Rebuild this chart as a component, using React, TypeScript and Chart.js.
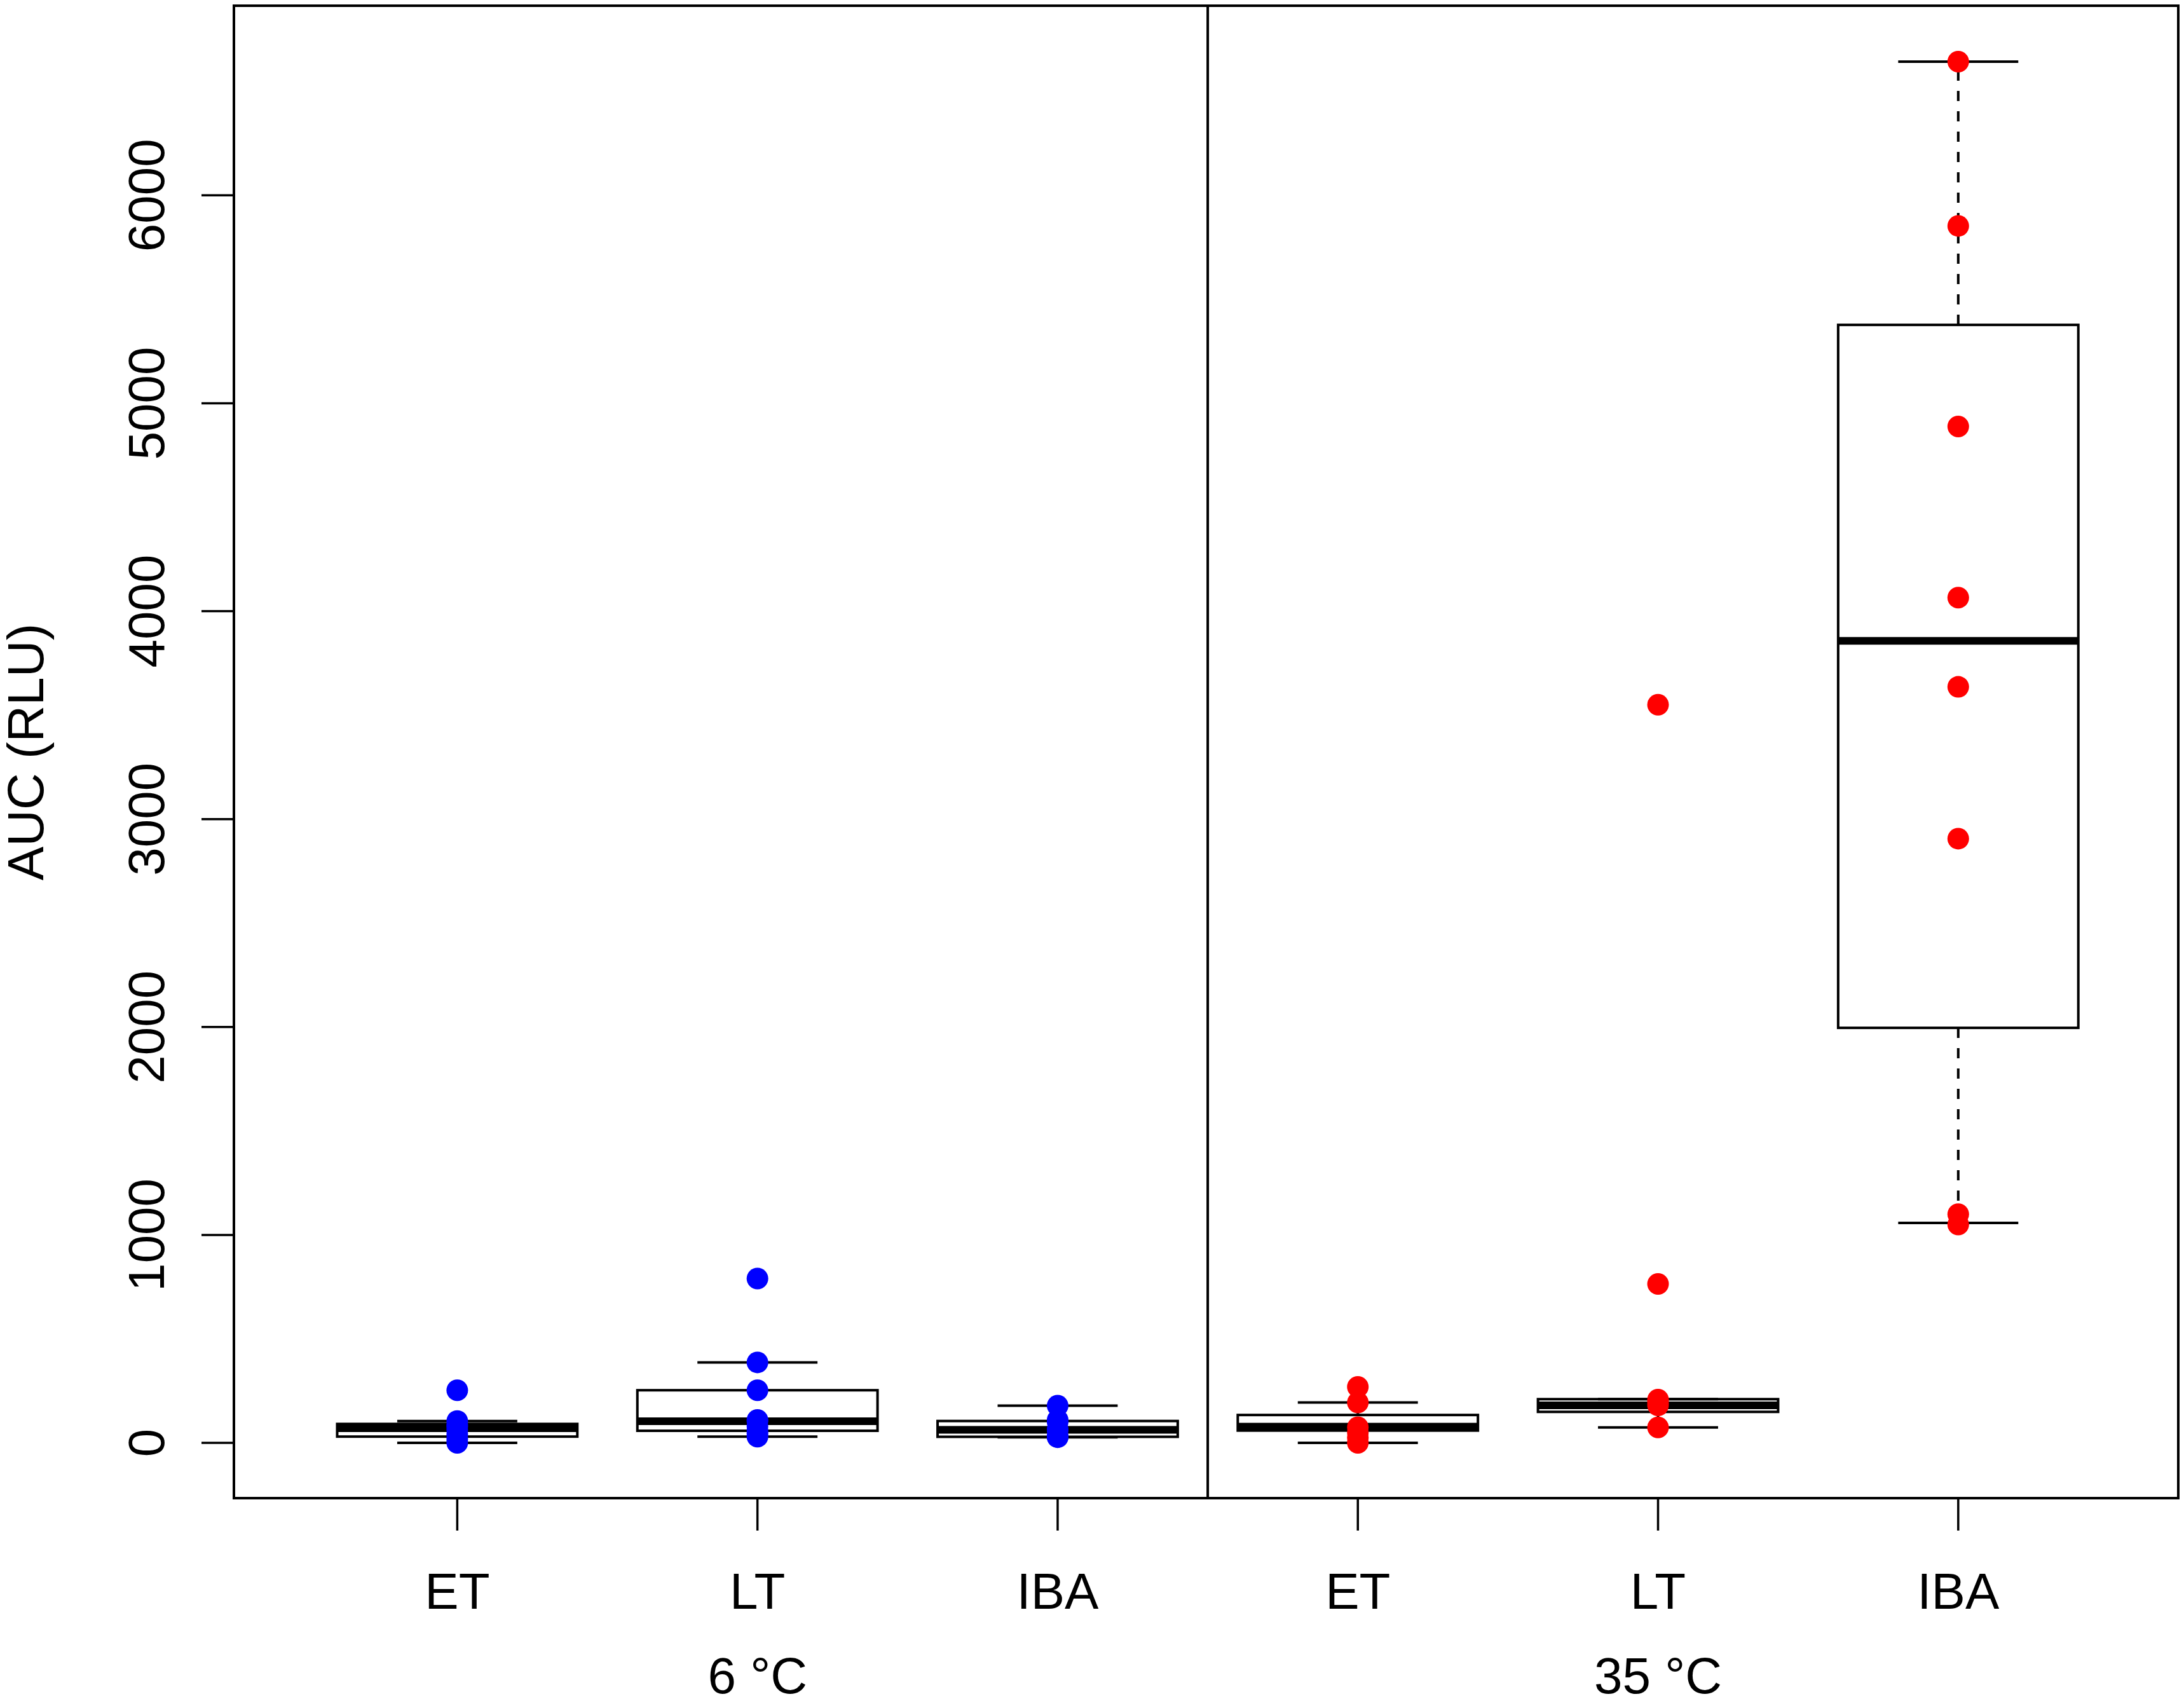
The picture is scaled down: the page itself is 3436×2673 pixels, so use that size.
import React, { useEffect, useRef } from 'react';
import { Chart, registerables } from 'chart.js';

Chart.register(...registerables);

// ---------------- data ----------------
const CATEGORIES = ['ET', 'LT', 'IBA', 'ET', 'LT', 'IBA'];
const GROUP_LABELS = ['6 °C', '35 °C'];
const GROUP_CENTERS = [2, 5];
const DIVIDER_AT = 3.5;
const Y_TICKS = [0, 1000, 2000, 3000, 4000, 5000, 6000];
const Y_TITLE = 'AUC (RLU)';

// box statistics (per category, left to right)
const BOX_MIN = [0, 30, 27, 0, 74, 1058];
const BOX_Q1 = [30, 58, 29, 59, 149, 1996];
const BOX_MEDIAN = [70, 104, 63, 78, 180, 3857];
const BOX_Q3 = [91, 253, 105, 134, 210, 5377];
const BOX_MAX = [105, 387, 179, 194, 210, 6643];

// individual observations
const PTS_6_ET = [0, 18, 40, 62, 78, 86, 105, 253];
const PTS_6_LT = [30, 45, 58, 80, 104, 110, 253, 387, 790];
const PTS_6_IBA = [27, 29, 32, 60, 66, 100, 110, 179];
const PTS_35_ET = [0, 25, 50, 75, 194, 269];
const PTS_35_LT = [74, 180, 195, 208, 764, 3550];
const PTS_35_IBA = [1050, 1100, 2906, 3636, 4065, 4888, 5853, 6643];

const PTS_6 = [PTS_6_ET, PTS_6_LT, PTS_6_IBA];
const PTS_35 = [PTS_35_ET, PTS_35_LT, PTS_35_IBA];

// ---------------- helpers ----------------
const FONT = '80px "Liberation Sans", Arial, Helvetica, sans-serif';

const toXY = (groups: number[][], offset: number) =>
  groups.flatMap((vals, i) => vals.map((v) => ({ x: i + 1 + offset, y: v })));

const rPlotPlugin = {
  id: 'rBoxplot',
  beforeDatasetsDraw(chart: any) {
    const { ctx, scales } = chart;
    const x = scales.x;
    const y = scales.y;
    ctx.save();
    ctx.strokeStyle = '#000000';
    for (let i = 0; i < CATEGORIES.length; i++) {
      const pos = i + 1;
      const cx = x.getPixelForValue(pos);
      const halfBox = x.getPixelForValue(pos + 0.4) - cx;
      const halfCap = x.getPixelForValue(pos + 0.2) - cx;
      const pMin = y.getPixelForValue(BOX_MIN[i]);
      const pQ1 = y.getPixelForValue(BOX_Q1[i]);
      const pMed = y.getPixelForValue(BOX_MEDIAN[i]);
      const pQ3 = y.getPixelForValue(BOX_Q3[i]);
      const pMax = y.getPixelForValue(BOX_MAX[i]);

      // dashed whiskers
      ctx.lineWidth = 4;
      ctx.lineCap = 'butt';
      ctx.setLineDash([16, 16]);
      ctx.beginPath();
      if (pQ3 - pMax > 1) {
        ctx.moveTo(cx, pQ3);
        ctx.lineTo(cx, pMax);
      }
      if (pMin - pQ1 > 1) {
        ctx.moveTo(cx, pQ1);
        ctx.lineTo(cx, pMin);
      }
      ctx.stroke();
      ctx.setLineDash([]);

      // staples
      ctx.beginPath();
      ctx.moveTo(cx - halfCap, pMax);
      ctx.lineTo(cx + halfCap, pMax);
      ctx.moveTo(cx - halfCap, pMin);
      ctx.lineTo(cx + halfCap, pMin);
      ctx.stroke();

      // box
      ctx.lineWidth = 4;
      ctx.strokeRect(cx - halfBox, pQ3, 2 * halfBox, pQ1 - pQ3);

      // median
      ctx.lineWidth = 12;
      ctx.beginPath();
      ctx.moveTo(cx - halfBox, pMed);
      ctx.lineTo(cx + halfBox, pMed);
      ctx.stroke();
    }
    ctx.restore();
  },
  afterDraw(chart: any) {
    const { ctx, chartArea, scales } = chart;
    const x = scales.x;
    const y = scales.y;
    const { left, right, top, bottom } = chartArea;
    ctx.save();
    ctx.strokeStyle = '#000000';
    ctx.fillStyle = '#000000';
    ctx.lineWidth = 4;
    ctx.setLineDash([]);

    // frame
    ctx.strokeRect(left, top, right - left, bottom - top);

    // divider between temperature groups
    const dx = x.getPixelForValue(DIVIDER_AT);
    ctx.beginPath();
    ctx.moveTo(dx, top);
    ctx.lineTo(dx, bottom);
    ctx.stroke();

    // y ticks + rotated labels
    ctx.font = FONT;
    ctx.lineWidth = 3.5;
    for (const t of Y_TICKS) {
      const py = y.getPixelForValue(t);
      ctx.beginPath();
      ctx.moveTo(left, py);
      ctx.lineTo(left - 51, py);
      ctx.stroke();
      ctx.save();
      ctx.translate(258, py);
      ctx.rotate(-Math.PI / 2);
      ctx.textAlign = 'center';
      ctx.textBaseline = 'alphabetic';
      ctx.fillText(String(t), 0, 0);
      ctx.restore();
    }

    // y title
    ctx.save();
    ctx.translate(68, (top + bottom) / 2);
    ctx.rotate(-Math.PI / 2);
    ctx.textAlign = 'center';
    ctx.textBaseline = 'alphabetic';
    ctx.fillText(Y_TITLE, 0, 0);
    ctx.restore();

    // x ticks + labels
    ctx.textAlign = 'center';
    ctx.textBaseline = 'alphabetic';
    for (let i = 0; i < CATEGORIES.length; i++) {
      const px = x.getPixelForValue(i + 1);
      ctx.beginPath();
      ctx.moveTo(px, bottom);
      ctx.lineTo(px, bottom + 51);
      ctx.stroke();
      ctx.fillText(CATEGORIES[i], px, 2531);
    }
    for (let g = 0; g < GROUP_LABELS.length; g++) {
      const px = x.getPixelForValue(GROUP_CENTERS[g]);
      ctx.fillText(GROUP_LABELS[g], px, 2664);
    }
    ctx.restore();
  },
};

export default function App() {
  const ref = useRef<HTMLCanvasElement>(null);
  useEffect(() => {
    document.body.style.margin = '0';
    const canvas = ref.current;
    if (!canvas) return;
    const chart = new Chart(canvas, {
      type: 'scatter',
      data: {
        datasets: [
          {
            label: '6 °C',
            data: toXY(PTS_6, 0),
            backgroundColor: '#0000FF',
            borderColor: '#0000FF',
            pointRadius: 17,
            pointHoverRadius: 17,
            pointBorderWidth: 0,
          },
          {
            label: '35 °C',
            data: toXY(PTS_35, 3),
            backgroundColor: '#FF0000',
            borderColor: '#FF0000',
            pointRadius: 17,
            pointHoverRadius: 17,
            pointBorderWidth: 0,
          },
        ],
      },
      options: {
        animation: false,
        responsive: false,
        devicePixelRatio: 1,
        events: [],
        layout: { autoPadding: false, padding: { left: 368, top: 9, right: 9, bottom: 316 } },
        plugins: {
          legend: { display: false },
          tooltip: { enabled: false },
          title: { display: false },
        },
        scales: {
          x: { type: 'linear', min: 0.256, max: 6.733, display: false },
          y: { type: 'linear', min: -266, max: 6912, display: false },
        },
      },
      plugins: [rPlotPlugin],
    } as any);
    return () => chart.destroy();
  }, []);
  return (
    <div style={{ position: 'absolute', left: 0, top: 0, width: 3436, height: 2673, background: '#ffffff' }}>
      <canvas ref={ref} width={3436} height={2673} style={{ display: 'block', width: 3436, height: 2673 }} />
    </div>
  );
}
